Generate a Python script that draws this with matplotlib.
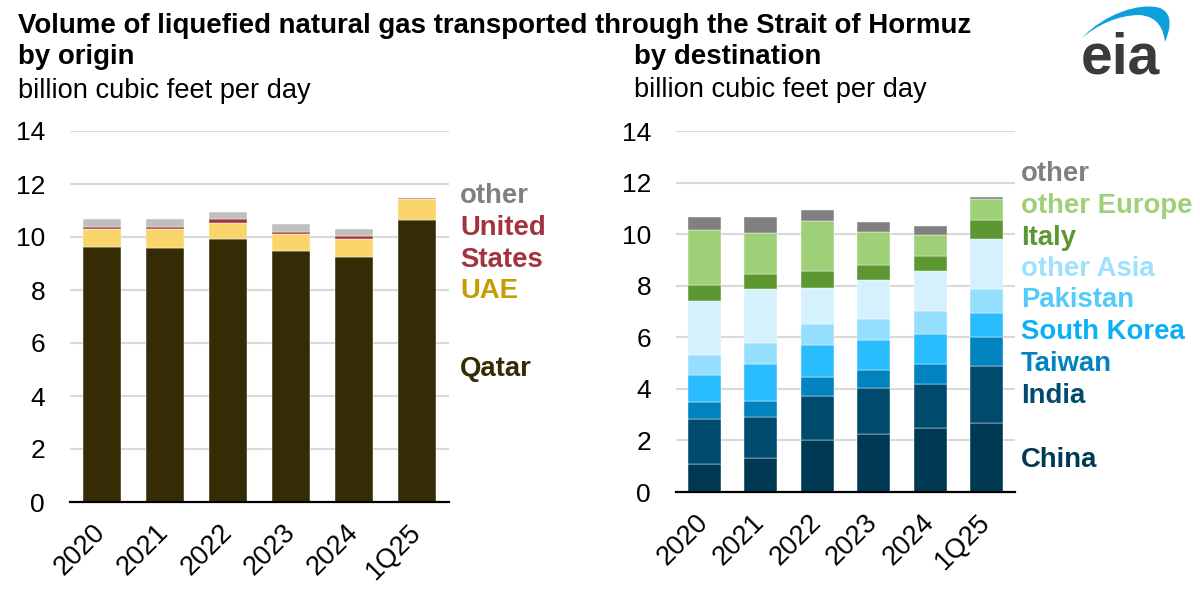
import matplotlib
matplotlib.use("Agg")
import matplotlib.pyplot as plt
import numpy as np
from matplotlib.path import Path
from matplotlib.patches import PathPatch

plt.rcParams['font.family'] = ['Liberation Sans', 'DejaVu Sans']

# ---------------- data ----------------
periods = ["2020", "2021", "2022", "2023", "2024", "1Q25"]

# by origin (bcf/d)
origin_names = ["Qatar", "UAE", "United\nStates", "other"]
qatar = [9.63, 9.60, 9.92, 9.48, 9.25, 10.63]
uae = [0.68, 0.71, 0.62, 0.64, 0.69, 0.81]
united_states = [0.07, 0.08, 0.14, 0.08, 0.11, 0.02]
origin_other = [0.31, 0.28, 0.26, 0.28, 0.25, 0.03]

# by destination (bcf/d)
dest_names = ["China", "India", "Taiwan", "South Korea", "Pakistan",
              "other Asia", "Italy", "other Europe", "other"]
china = [1.07, 1.31, 2.03, 2.24, 2.47, 2.66]
india = [1.75, 1.61, 1.70, 1.81, 1.71, 2.21]
taiwan = [0.66, 0.60, 0.72, 0.69, 0.77, 1.13]
south_korea = [1.07, 1.46, 1.26, 1.17, 1.19, 0.95]
pakistan = [0.77, 0.81, 0.82, 0.81, 0.88, 0.93]
other_asia = [2.10, 2.07, 1.38, 1.51, 1.54, 1.93]
italy = [0.62, 0.61, 0.67, 0.58, 0.60, 0.75]
other_europe = [2.12, 1.57, 1.93, 1.28, 0.79, 0.81]
dest_other = [0.52, 0.64, 0.41, 0.37, 0.35, 0.07]

yticks = [0, 2, 4, 6, 8, 10, 12, 14]

# ---------------- styles ----------------
origin_series = [qatar, uae, united_states, origin_other]
origin_bar_colors = ["#352b05", "#f9d56b", "#a33340", "#bfbfbf"]
origin_text_colors = ["#352b05", "#c89c00", "#a33340", "#808080"]
origin_label_y = [369, 291, 244, 196]  # pixel centers

dest_series = [china, india, taiwan, south_korea, pakistan,
               other_asia, italy, other_europe, dest_other]
dest_bar_colors = ["#003953", "#004b6d", "#0083bf", "#29bdfd", "#95defe",
                   "#d5f1fd", "#5c9732", "#9dd077", "#808080"]
dest_text_colors = ["#003953", "#004b6d", "#0083bf", "#0ab0f5", "#52cbfb",
                    "#9ee1fd", "#5c9732", "#9dd077", "#808080"]
dest_label_y = [460, 396, 364, 332, 300, 269, 238, 206, 174]

W, H = 1200, 594
fig = plt.figure(figsize=(W / 100, H / 100), dpi=100)


def px_axes(x0, y0, x1, y1):
    return fig.add_axes([x0 / W, 1 - y1 / H, (x1 - x0) / W, (y1 - y0) / H])


def style_axes(ax, pad):
    ax.set_ylim(0, 14)
    ax.set_xlim(-0.5, len(periods) - 0.5)
    ax.set_yticks(yticks)
    ax.set_yticklabels([str(t) for t in yticks], fontsize=19)
    ax.tick_params(axis='y', length=0, pad=pad)
    ax.tick_params(axis='x', length=0, pad=19)
    ax.set_xticks(range(len(periods)))
    ax.set_xticklabels(periods, fontsize=19.5, rotation=45, ha='right',
                       va='center', rotation_mode='anchor')
    ax.grid(axis='y', color='#d9d9d9', lw=1.5)
    ax.set_axisbelow(True)
    for s in ['left', 'right', 'top']:
        ax.spines[s].set_visible(False)
    ax.spines['bottom'].set_color('black')
    ax.spines['bottom'].set_linewidth(1.6)
    ax.spines['bottom'].set_zorder(5)


x = np.arange(len(periods))

# left panel
ax1 = px_axes(70, 131, 449, 502)
bottom = np.zeros(len(periods))
for vals, col in zip(origin_series, origin_bar_colors):
    ax1.bar(x, vals, width=0.6, bottom=bottom, color=col,
            edgecolor='#ffffff', linewidth=0.3, zorder=3)
    bottom += np.array(vals)
style_axes(ax1, 18)

# right panel
ax2 = px_axes(676, 131, 1015, 492)
bottom = np.zeros(len(periods))
for vals, col in zip(dest_series, dest_bar_colors):
    ax2.bar(x, vals, width=0.59, bottom=bottom, color=col,
            edgecolor='#ffffff', linewidth=0.3, zorder=3)
    bottom += np.array(vals)
style_axes(ax2, 18)

# overlay axes in pixel coords for text & logo
ov = fig.add_axes([0, 0, 1, 1], zorder=-1)
ov.set_xlim(0, W)
ov.set_ylim(H, 0)
ov.set_axis_off()

ov.text(18, 33, "Volume of liquefied natural gas transported through the Strait of Hormuz",
        fontsize=19.9, fontweight='bold', va='baseline', ha='left')
ov.text(18, 64, "by origin", fontsize=19.9, fontweight='bold', va='baseline', ha='left')
ov.text(18, 98, "billion cubic feet per day", fontsize=19.6, va='baseline', ha='left')
ov.text(634, 64, "by destination", fontsize=19.9, fontweight='bold', va='baseline', ha='left')
ov.text(634, 97, "billion cubic feet per day", fontsize=19.6, va='baseline', ha='left')

for name, col, yy in zip(origin_names, origin_text_colors, origin_label_y):
    ov.text(460, yy, name, color=col, fontsize=19.8, fontweight='bold',
            va='center', ha='left', linespacing=1.3)
for name, col, yy in zip(dest_names, dest_text_colors, dest_label_y):
    ov.text(1021, yy, name, color=col, fontsize=19.8, fontweight='bold',
            va='center', ha='left')

# eia logo
ov.text(1120, 73, "eia", fontsize=41, fontweight='bold', color='#3a3a3a',
        ha='center', va='baseline')
verts = [(1082, 38), (1104, 14), (1140, 2), (1160, 8),
         (1174, 14), (1170, 30), (1165, 42),
         (1163, 28), (1158, 17), (1140, 15),
         (1118, 15), (1097, 25), (1082, 38)]
codes = [Path.MOVETO, Path.CURVE4, Path.CURVE4, Path.CURVE4,
         Path.CURVE4, Path.CURVE4, Path.CURVE4,
         Path.CURVE4, Path.CURVE4, Path.CURVE4,
         Path.CURVE4, Path.CURVE4, Path.CURVE4]
ov.add_patch(PathPatch(Path(verts, codes), facecolor='#0ea0dc', edgecolor='none'))

fig.savefig("out.png", dpi=100)
